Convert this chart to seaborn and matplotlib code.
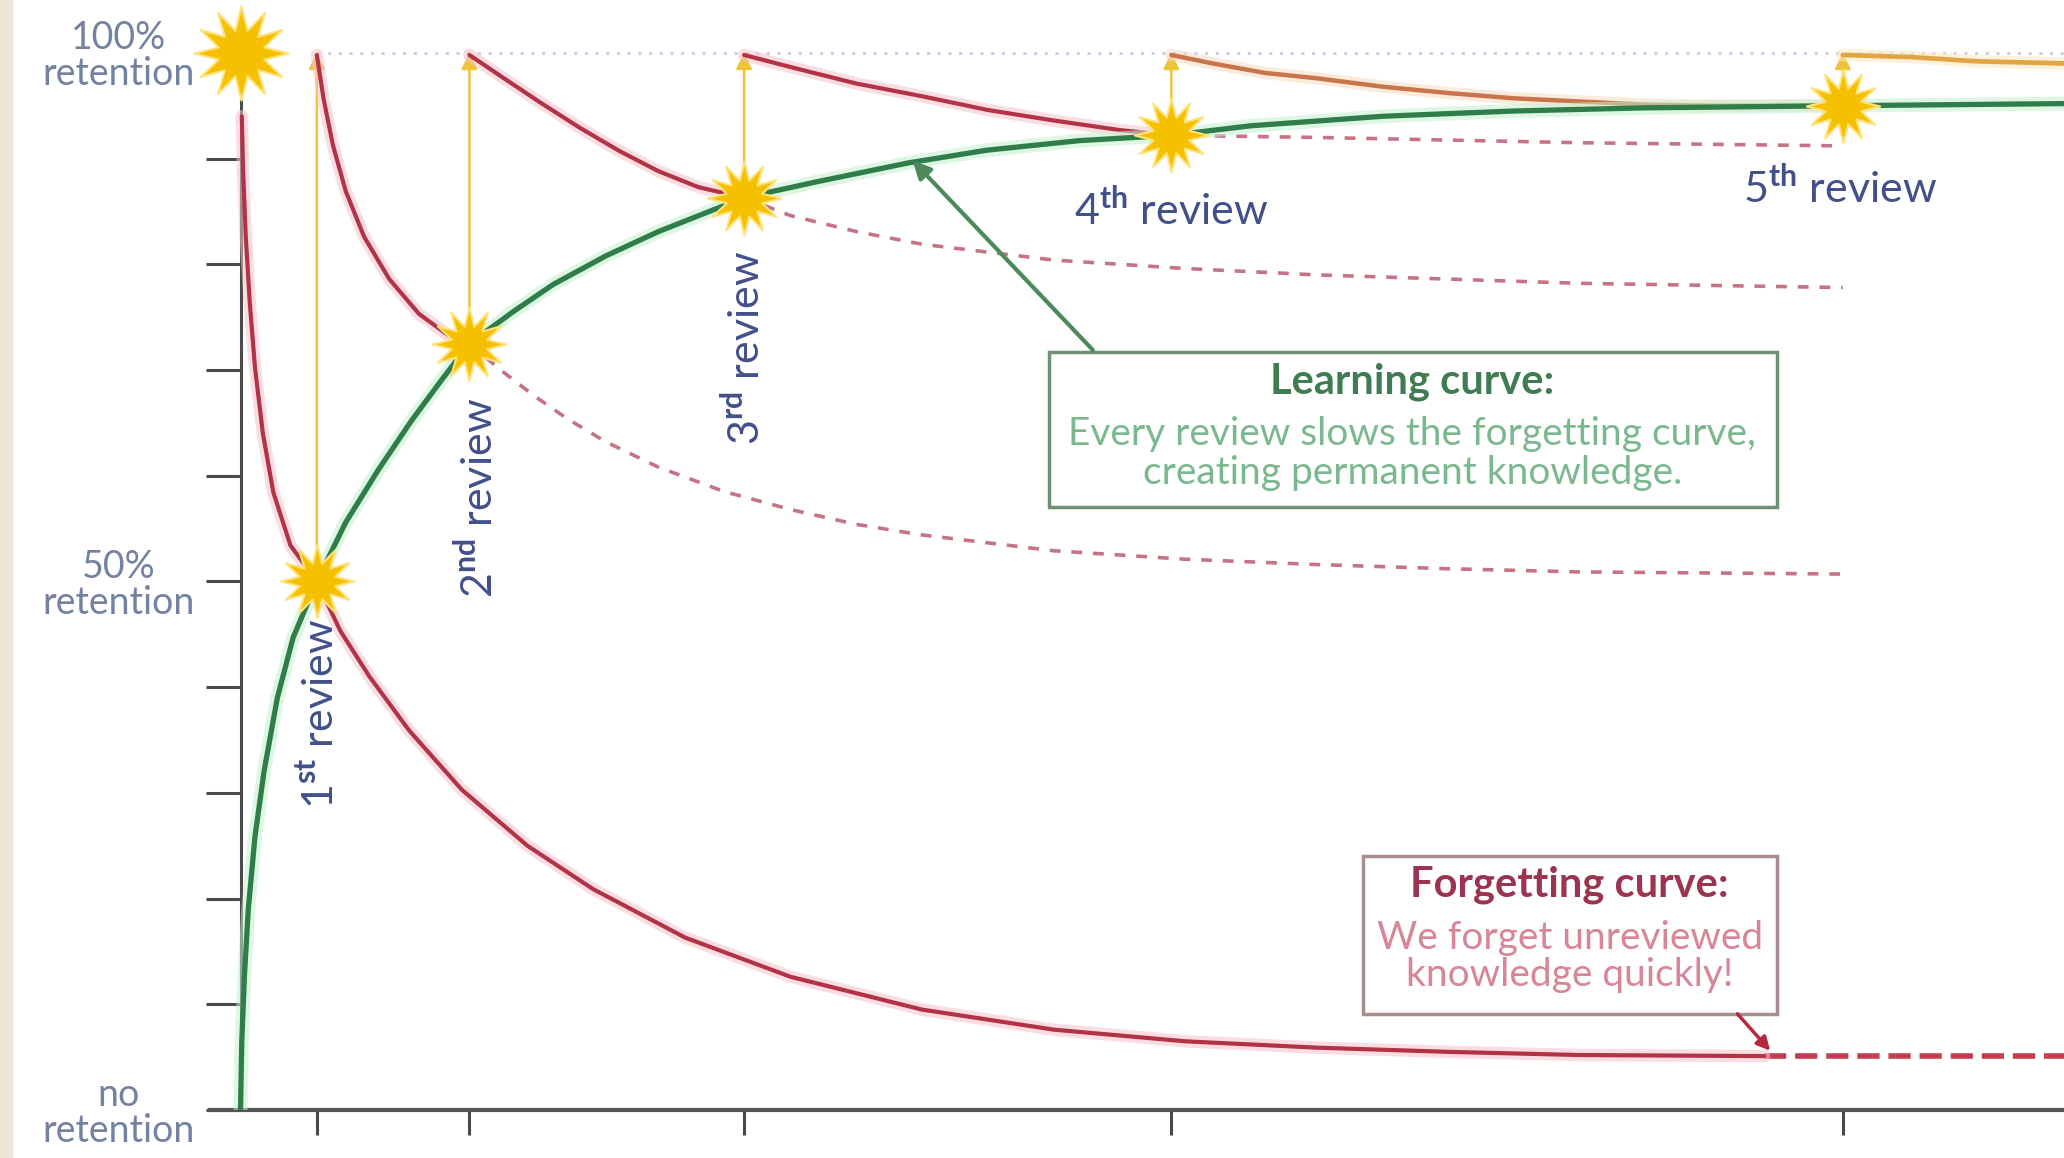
import matplotlib.pyplot as plt
import matplotlib.patheffects as pe
from matplotlib.patches import Rectangle
import seaborn as sns

# ---- data (x = time, y = retention 0..1) ----
review_x = [1.0, 3.0, 6.6, 12.2, 21.0]
review_y = [0.50, 0.725, 0.863, 0.922, 0.950]
review_labels = ["1$^{\\mathbf{st}}$ review", "2$^{\\mathbf{nd}}$ review",
                 "3$^{\\mathbf{rd}}$ review", "4$^{\\mathbf{th}}$ review",
                 "5$^{\\mathbf{th}}$ review"]

# learning curve (green)
learn_x = [0, 0.017, 0.052, 0.103, 0.19, 0.31, 0.483, 0.69, 1.0, 1.38, 1.81,
           2.24, 2.64, 3.0, 3.59, 4.10, 4.79, 5.48, 6.6, 7.55, 8.76, 9.79,
           11.0, 12.2, 13.24, 14.97, 16.69, 18.41, 21.0, 23.9]
learn_y = [0, 0.066, 0.128, 0.191, 0.259, 0.321, 0.390, 0.447, 0.50, 0.556,
           0.606, 0.652, 0.691, 0.725, 0.756, 0.781, 0.808, 0.831, 0.863, 0.878,
           0.896, 0.908, 0.917, 0.922, 0.931, 0.940, 0.945, 0.948, 0.950, 0.952]

# first forgetting curve (no review), solid then dashed
forget0_x = [0.017, 0.034, 0.069, 0.121, 0.19, 0.293, 0.431, 0.655, 1.0, 1.31,
             1.69, 2.21, 2.90, 3.76, 4.62, 5.83, 7.21, 8.93, 10.66, 12.38,
             14.10, 15.83, 17.55, 19.97]
forget0_y = [0.940, 0.888, 0.826, 0.764, 0.702, 0.640, 0.584, 0.534, 0.50, 0.453,
             0.410, 0.359, 0.303, 0.250, 0.209, 0.163, 0.126, 0.095, 0.076, 0.065,
             0.059, 0.055, 0.052, 0.051]
forget0_tail_x = [19.97, 23.9]
forget0_tail_y = [0.051, 0.051]

# forgetting after 1st review
forget1_x = [1.0, 1.09, 1.21, 1.38, 1.62, 1.95, 2.34, 2.72, 3.0]
forget1_y = [0.998, 0.956, 0.913, 0.869, 0.826, 0.786, 0.753, 0.733, 0.725]
forget1_tail_x = [3.0, 3.41, 3.84, 4.28, 4.79, 5.48, 6.34, 7.21, 8.07, 8.93,
                  10.66, 12.38, 14.10, 15.83, 17.55, 21.0]
forget1_tail_y = [0.725, 0.700, 0.676, 0.654, 0.632, 0.608, 0.585, 0.568, 0.554,
                  0.544, 0.529, 0.521, 0.516, 0.512, 0.509, 0.507]

# forgetting after 2nd review
forget2_x = [3.0, 3.41, 3.93, 4.45, 4.97, 5.48, 6.0, 6.6]
forget2_y = [0.998, 0.978, 0.953, 0.929, 0.907, 0.888, 0.873, 0.863]
forget2_tail_x = [6.6, 7.21, 8.07, 8.93, 10.66, 12.38, 14.1, 15.83, 17.55, 21.0]
forget2_tail_y = [0.863, 0.846, 0.831, 0.819, 0.804, 0.796, 0.790, 0.786, 0.782, 0.778]

# forgetting after 3rd review
forget3_x = [6.6, 7.24, 8.07, 8.93, 9.79, 10.66, 11.52, 12.2]
forget3_y = [0.998, 0.986, 0.971, 0.959, 0.946, 0.936, 0.927, 0.922]
forget3_tail_x = [12.2, 14.1, 17.55, 21.0]
forget3_tail_y = [0.922, 0.920, 0.915, 0.912]

# forgetting after 4th and 5th review
forget4_x = [12.2, 12.74, 13.43, 14.1, 14.97, 15.83, 16.69, 17.55, 18.41, 19.28, 21.0]
forget4_y = [0.998, 0.990, 0.981, 0.976, 0.968, 0.962, 0.957, 0.954, 0.951, 0.950, 0.950]
forget5_x = [21.0, 21.9, 22.76, 23.9]
forget5_y = [0.998, 0.996, 0.992, 0.990]

ytick_major = [0, 0.5, 1.0]
ytick_labels = ["no\nretention", "50%\nretention", "100%\nretention"]
ytick_minor = [0.1, 0.2, 0.3, 0.4, 0.6, 0.7, 0.8, 0.9]

# ---- colours ----
RED = "#b23346"
RED_GLOW = "#f7c2cb"
GREEN = "#2f7d48"
GREEN_GLOW = "#c4f0cf"
GOLD = "#f5c000"
ARROW_GOLD = "#f0c43a"
ORANGE4 = "#c9744a"
ORANGE5 = "#e2a545"
LABEL_BLUE = "#42508a"
TICK_GREY = "#7482a0"

sns.set_theme(style="white")
plt.rcParams['font.family'] = ['Lato', 'DejaVu Sans']
plt.rcParams['mathtext.fontset'] = 'custom'
plt.rcParams['mathtext.rm'] = 'Lato'
plt.rcParams['mathtext.bf'] = 'Lato:bold'

fig = plt.figure(figsize=(20.64, 11.58), dpi=100)
fig.patch.set_facecolor('white')
fig.patches.append(Rectangle((0, 0), 12 / 2064, 1, transform=fig.transFigure,
                             color='#efe6da', zorder=0))
ax = fig.add_axes([210 / 2064, 48 / 1158, 1 - 210 / 2064, 1110 / 1158])
ax.set_xlim(-0.4, 23.9)
ax.set_ylim(0, 1.05)
ax.set_facecolor('white')


def glow(c, w=9):
    return [pe.Stroke(linewidth=w, foreground=c, alpha=0.55), pe.Normal()]


# top dotted 100% line
sns.lineplot(x=[1.0, 23.9], y=[1.0, 1.0], ax=ax, color="#cdcde8", lw=2.2,
             linestyle=(0, (1, 2.5)), zorder=1)

# dashed continuations
for tx, ty in [(forget1_tail_x, forget1_tail_y), (forget2_tail_x, forget2_tail_y),
               (forget3_tail_x, forget3_tail_y)]:
    sns.lineplot(x=tx, y=ty, ax=ax, sort=False, color="#c47484", lw=2.6,
                 linestyle=(0, (3, 3)), zorder=2)
sns.lineplot(x=forget0_tail_x, y=forget0_tail_y, ax=ax, sort=False, color="#c43d52",
             lw=4, linestyle=(0, (4, 1.6)), zorder=2)

# solid forgetting curves
for fx, fy in [(forget0_x, forget0_y), (forget1_x, forget1_y),
               (forget2_x, forget2_y), (forget3_x, forget3_y)]:
    sns.lineplot(x=fx, y=fy, ax=ax, sort=False, color=RED, lw=3,
                 path_effects=glow(RED_GLOW), zorder=3)
sns.lineplot(x=forget4_x, y=forget4_y, ax=ax, sort=False, color=ORANGE4, lw=3.2,
             path_effects=glow("#f8dcc0"), zorder=3)
sns.lineplot(x=forget5_x, y=forget5_y, ax=ax, sort=False, color=ORANGE5, lw=3.4,
             path_effects=glow("#fbe8c0"), zorder=3)

# learning curve
sns.lineplot(x=learn_x, y=learn_y, ax=ax, sort=False, color=GREEN, lw=3.8,
             path_effects=glow(GREEN_GLOW, 10), zorder=4)

# yellow review arrows
for rx, ry in zip(review_x, review_y):
    ax.annotate("", xy=(rx, 1.0), xytext=(rx, ry),
                arrowprops=dict(arrowstyle="-|>", color=ARROW_GOLD, lw=1.8,
                                mutation_scale=24, shrinkA=0, shrinkB=0),
                zorder=2)

# stars
sns.scatterplot(x=review_x, y=review_y, ax=ax, marker=(12, 1, 0), s=2800,
                color=GOLD, edgecolor="#ffe27a", linewidth=1.5, zorder=6)
sns.scatterplot(x=[0.0], y=[1.0], ax=ax, marker=(12, 1, 0), s=4600,
                color=GOLD, edgecolor="#ffe27a", linewidth=1.5, zorder=6,
                clip_on=False)

# review labels
rot_pos = [(1.05, 0.375), (3.12, 0.579), (6.62, 0.721)]
for (lx, ly), lab in zip(rot_pos, review_labels[:3]):
    ax.text(lx, ly, lab, rotation=90, ha='center', va='center',
            fontsize=31, color=LABEL_BLUE)
ax.text(12.2, 0.851, review_labels[3], ha='center', va='center',
        fontsize=31, color=LABEL_BLUE)
ax.text(20.97, 0.872, review_labels[4], ha='center', va='center',
        fontsize=31, color=LABEL_BLUE)

# learning curve box
ax.add_patch(Rectangle((10.6, 0.570), 9.54, 0.147, fill=True, facecolor='white',
                       edgecolor="#6f8f76", lw=2.5, zorder=5))
ax.text(15.36, 0.689, "Learning curve:", ha='center', va='center', fontsize=30,
        fontweight='bold', color="#3f7c52", zorder=6)
ax.text(15.36, 0.621, "Every review slows the forgetting curve,\ncreating permanent knowledge.",
        ha='center', va='center', fontsize=28, color="#7cb88f", linespacing=1.08, zorder=6)
ax.annotate("", xy=(8.81, 0.898), xytext=(11.17, 0.719),
            arrowprops=dict(arrowstyle="-|>", color="#4c8a5c", lw=3,
                            mutation_scale=26, shrinkA=0, shrinkB=0), zorder=5)

# forgetting curve box
ax.add_patch(Rectangle((14.71, 0.091), 5.43, 0.149, fill=True, facecolor='white',
                       edgecolor="#a88c8e", lw=2.5, zorder=5))
ax.text(17.42, 0.213, "Forgetting curve:", ha='center', va='center', fontsize=30,
        fontweight='bold', color="#9c3350", zorder=6)
ax.text(17.42, 0.145, "We forget unreviewed\nknowledge quickly!", ha='center',
        va='center', fontsize=28, color="#d88598", linespacing=1.05, zorder=6)
ax.annotate("", xy=(20.05, 0.056), xytext=(19.62, 0.091),
            arrowprops=dict(arrowstyle="-|>", color="#b8283c", lw=2.5,
                            mutation_scale=20, shrinkA=0, shrinkB=0), zorder=5)

# axes styling
sns.despine(ax=ax, top=True, right=True)
ax.spines['left'].set_position(('data', 0))
ax.spines['left'].set_bounds(0, 1.0)
ax.spines['left'].set_color("#4a4a4a")
ax.spines['left'].set_linewidth(2.2)
ax.spines['bottom'].set_color("#555555")
ax.spines['bottom'].set_linewidth(3)
ax.set_yticks(ytick_major)
ax.set_yticklabels(ytick_labels, multialignment='center', linespacing=1.0)
ax.set_yticks(ytick_minor, minor=True)
ax.tick_params(axis='y', which='both', direction='out', length=25, width=2.2,
               color="#4a4a4a", labelsize=27, labelcolor=TICK_GREY, pad=8, left=True)
ax.set_xticks(review_x)
ax.set_xticklabels([])
ax.tick_params(axis='x', which='both', direction='out', length=18, width=2.2,
               color="#4a4a4a", bottom=True)
ax.set_xlabel("")
ax.set_ylabel("")

fig.savefig("out.png", dpi=100)
